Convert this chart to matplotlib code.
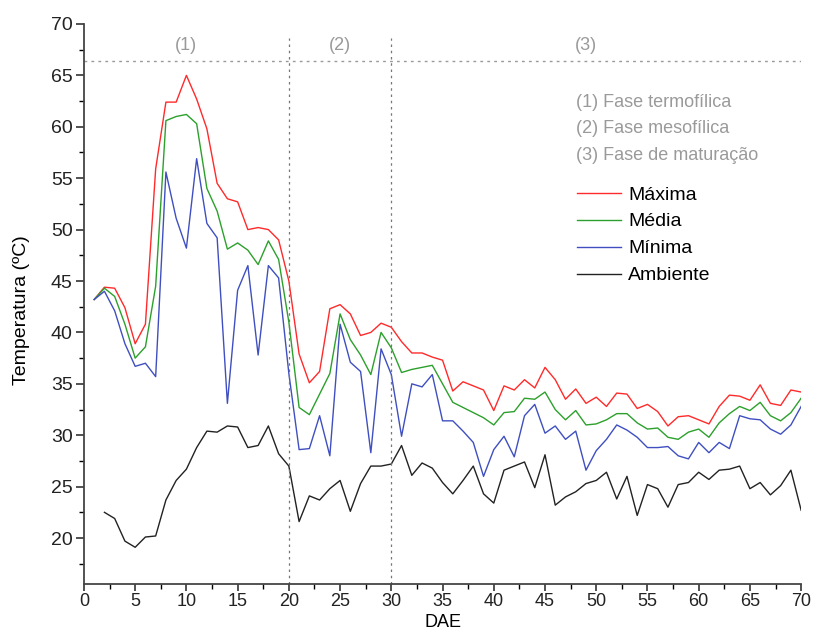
import matplotlib
matplotlib.use("Agg")
import matplotlib.pyplot as plt
from matplotlib.ticker import MultipleLocator

plt.rcParams['font.family'] = ['Liberation Sans', 'DejaVu Sans']

days = list(range(1, 71))
maxima = [43.2, 44.4, 44.3, 42.4, 38.9, 40.8, 55.9, 62.4, 62.4, 65.0,
          62.7, 59.8, 54.5, 53.0, 52.7, 50.0, 50.2, 50.0, 49.0, 45.0,
          37.9, 35.1, 36.2, 42.3, 42.7, 41.8, 39.7, 40.0, 40.9, 40.5,
          39.1, 38.0, 38.0, 37.6, 37.3, 34.3, 35.2, 34.8, 34.4, 32.4,
          34.8, 34.4, 35.4, 34.6, 36.6, 35.4, 33.5, 34.5, 33.1, 33.7,
          32.8, 34.1, 34.0, 32.6, 33.0, 32.3, 30.9, 31.8, 31.9, 31.5,
          31.1, 32.8, 33.9, 33.8, 33.4, 34.9, 33.1, 32.9, 34.4, 34.2]
media = [43.2, 44.3, 43.5, 40.8, 37.5, 38.6, 44.5, 60.6, 61.0, 61.2,
         60.3, 54.0, 51.8, 48.1, 48.7, 48.0, 46.6, 48.9, 47.1, 41.0,
         32.7, 32.0, 34.0, 36.0, 41.8, 39.3, 37.8, 35.9, 40.0, 38.5,
         36.1, 36.4, 36.6, 36.8, 35.0, 33.2, 32.7, 32.2, 31.7, 31.0,
         32.2, 32.3, 33.6, 33.5, 34.2, 32.5, 31.5, 32.4, 31.0, 31.1,
         31.5, 32.1, 32.1, 31.2, 30.6, 30.7, 29.8, 29.6, 30.3, 30.6,
         29.8, 31.2, 32.1, 32.8, 32.4, 33.2, 31.9, 31.4, 32.2, 33.6]
minima = [43.2, 44.0, 42.1, 38.9, 36.7, 37.0, 35.7, 55.6, 51.1, 48.2,
          56.9, 50.6, 49.2, 33.1, 44.1, 46.5, 37.8, 46.5, 45.3, 36.0,
          28.6, 28.7, 31.9, 28.0, 40.8, 37.1, 36.2, 28.3, 38.4, 35.9,
          29.9, 35.0, 34.7, 35.9, 31.4, 31.4, 30.4, 29.3, 26.0, 28.6,
          29.9, 27.9, 31.9, 33.0, 30.2, 30.9, 29.6, 30.4, 26.6, 28.5,
          29.6, 31.0, 30.5, 29.8, 28.8, 28.8, 28.9, 28.0, 27.7, 29.3,
          28.3, 29.3, 28.7, 31.9, 31.6, 31.5, 30.6, 30.1, 31.0, 32.8]
amb_days = list(range(2, 71))
ambiente = [22.5, 21.9, 19.7, 19.1, 20.1, 20.2, 23.7, 25.6, 26.7,
            28.8, 30.4, 30.3, 30.9, 30.8, 28.8, 29.0, 30.9, 28.2, 27.0,
            21.6, 24.1, 23.7, 24.8, 25.6, 22.6, 25.3, 27.0, 27.0, 27.2,
            29.0, 26.1, 27.3, 26.8, 25.4, 24.3, 25.6, 27.0, 24.3, 23.4,
            26.6, 27.0, 27.4, 24.9, 28.1, 23.2, 24.0, 24.5, 25.3, 25.6,
            26.4, 23.8, 26.0, 22.2, 25.2, 24.8, 23.0, 25.2, 25.4, 26.4,
            25.7, 26.6, 26.7, 27.0, 24.8, 25.4, 24.2, 25.1, 26.6, 22.7]

series_names = ["Máxima", "Média", "Mínima", "Ambiente"]
colors = ["#ff2a2a", "#2ca02c", "#3f4fc0", "#222222"]
phase_labels = ["(1)", "(2)", "(3)"]
phase_label_x = [10, 25, 49]
phase_bounds = [20, 30]
phase_texts = ["(1) Fase termofílica", "(2) Fase mesofílica", "(3) Fase de maturação"]

fig = plt.figure(figsize=(8.15, 6.31), dpi=100)
ax = fig.add_axes([0.103, 0.074, 0.880, 0.888])

ax.plot(days, maxima, color=colors[0], lw=1.0, label=series_names[0])
ax.plot(days, media, color=colors[1], lw=1.0, label=series_names[1])
ax.plot(days, minima, color=colors[2], lw=1.0, label=series_names[2])
ax.plot(amb_days, ambiente, color=colors[3], lw=1.0, label=series_names[3])

gray = "#9a9a9a"
ax.axhline(66.4, color=gray, ls=(0, (2, 3)), lw=1.0)
for b in phase_bounds:
    ax.plot([b, b], [15.5, 68.6], color="#777777", ls=(0, (2, 3)), lw=0.9)
for lab, xx in zip(phase_labels, phase_label_x):
    ax.text(xx, 67.9, lab, color=gray, fontsize=13, ha="center", va="center")
for i, t in enumerate(phase_texts):
    ax.text(48.0, 62.4 - 2.6 * i, t, color=gray, fontsize=13, ha="left", va="center")

ax.legend(loc="upper left", bbox_to_anchor=(0.687, 0.711), frameon=False,
          fontsize=14, handlelength=2.3, handletextpad=0.35, labelspacing=0.48,
          borderaxespad=0, borderpad=0)

ax.set_xlim(0, 70)
ax.set_ylim(15.5, 70)
ax.xaxis.set_major_locator(MultipleLocator(5))
ax.xaxis.set_minor_locator(MultipleLocator(2.5))
ax.yaxis.set_minor_locator(MultipleLocator(2.5))
ax.set_yticks([20, 25, 30, 35, 40, 45, 50, 55, 60, 65, 70])
ax.tick_params(which="major", direction="out", length=6, width=1.2, labelsize=14,
               colors="#333333", pad=2)
ax.tick_params(axis="x", which="major", length=5, pad=1, labelsize=13)
ax.tick_params(which="minor", direction="out", length=3.5, width=1.0)
for lbl in ax.get_xticklabels() + ax.get_yticklabels():
    lbl.set_color("#222222")
ax.spines["top"].set_visible(False)
ax.spines["right"].set_visible(False)
ax.spines["left"].set_color("#444444")
ax.spines["bottom"].set_color("#444444")
ax.spines["left"].set_linewidth(1.3)
ax.spines["bottom"].set_linewidth(1.3)

ax.set_xlabel("DAE", fontsize=13, va="bottom")
ax.xaxis.set_label_coords(0.5, -0.0835)
ax.set_ylabel("Temperatura (ºC)", fontsize=14)
ax.yaxis.set_label_coords(-0.075, 0.49)

fig.savefig("out.png", dpi=100)
